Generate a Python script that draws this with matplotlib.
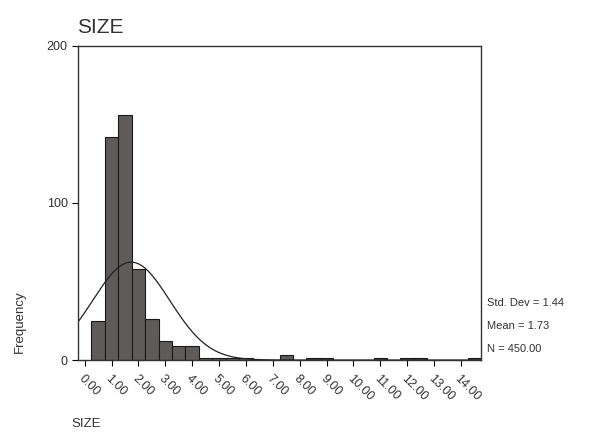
import numpy as np
from matplotlib import pyplot as plt

plt.rcParams['font.family'] = ['Liberation Sans', 'DejaVu Sans']

# histogram of SIZE, bins of width 0.5 (bar centres)
bin_centres = [0.5, 1.0, 1.5, 2.0, 2.5, 3.0, 3.5, 4.0, 4.5, 5.0, 5.5, 6.0,
               7.5, 8.5, 9.0, 11.0, 12.0, 12.5, 14.5]
counts = [25, 142, 156, 58, 26, 12, 9, 9, 1, 1, 1, 1,
          3, 1, 1, 1, 1, 1, 1]
bin_width = 0.5

std_dev = 1.44
mean = 1.73
n_total = 450

tick_vals = list(range(0, 15))
tick_labels = ['%.2f' % v for v in tick_vals]

fig = plt.figure(figsize=(5.92, 4.42), dpi=100)
ax = fig.add_axes([0.1318, 0.1855, 0.6807, 0.7105])

ax.bar(bin_centres, counts, width=bin_width, color='#5f5b5b',
       edgecolor='#1a1a1a', linewidth=0.8)

# normal curve scaled to counts
xs = np.linspace(-0.25, 14.75, 600)
ys = n_total * bin_width / (std_dev * np.sqrt(2 * np.pi)) * np.exp(-0.5 * ((xs - mean) / std_dev) ** 2)
ax.plot(xs, ys, color='#222222', linewidth=0.9)

ax.set_xlim(-0.25, 14.75)
ax.set_ylim(0, 200)
ax.set_yticks([0, 100, 200])
ax.set_xticks(tick_vals)
ax.set_xticklabels(tick_labels, rotation=-45, ha='left', va='top',
                   rotation_mode='anchor', fontsize=9, color='#333333')
ax.tick_params(axis='y', labelsize=9, labelcolor='#333333', length=4)
ax.tick_params(axis='x', length=4, pad=5)
for s in ax.spines.values():
    s.set_color('#333333')
    s.set_linewidth(1.0)

fig.text(0.13, 0.925, 'SIZE', fontsize=15, color='#333333', ha='left')
fig.text(0.033, 1 - 322 / 442., 'Frequency', rotation=90, fontsize=9.5, color='#333333',
         ha='center', va='center')
fig.text(0.121, 0.034, 'SIZE', fontsize=9.5, color='#333333', ha='left')

stats = ['Std. Dev = %.2f' % std_dev, 'Mean = %.2f' % mean, 'N = %.2f' % n_total]
for i, s in enumerate(stats):
    fig.text(0.822, 1 - (303 + 23 * i) / 442., s, fontsize=8, color='#333333',
             ha='left', va='center')

fig.savefig('out.png', dpi=100)
